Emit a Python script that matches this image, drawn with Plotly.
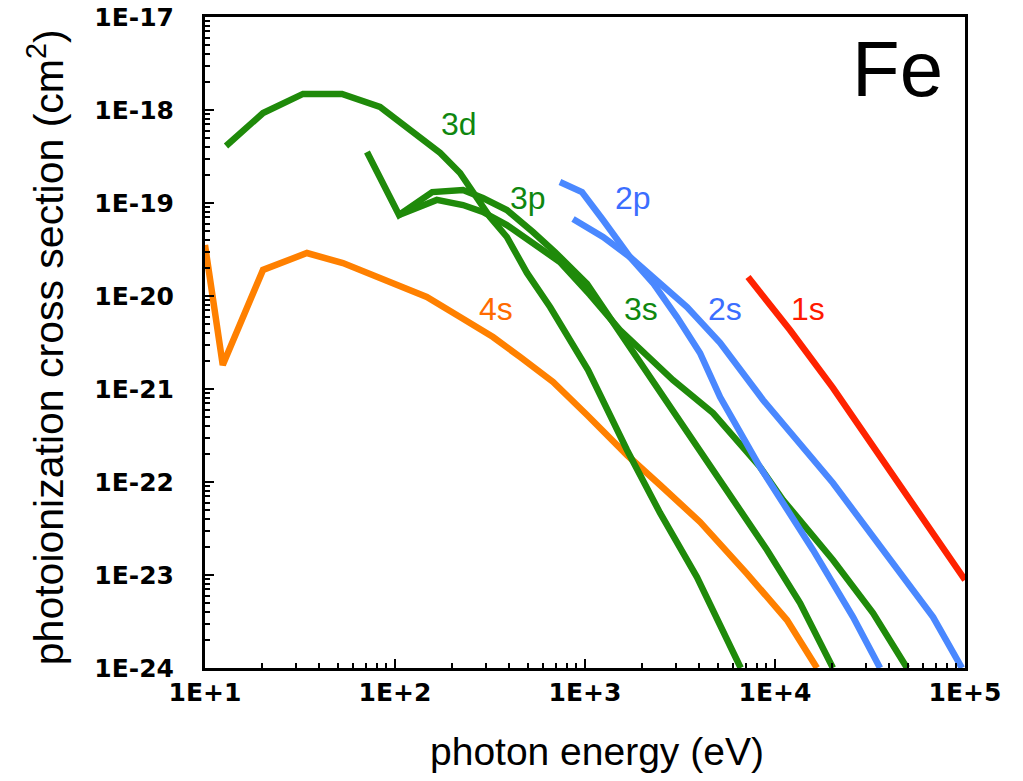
import plotly.graph_objects as go

# ---- data (photon energy in eV, cross section in cm^2) ----
e_3d = [12.9, 20.2, 32.8, 52.6, 83.4, 132, 173, 220, 258, 316, 388, 495, 655, 1038, 1663, 2483, 3882, 6600]
s_3d = [4.10e-19, 9.29e-19, 1.49e-18, 1.49e-18, 1.08e-18, 5.38e-19, 3.45e-19, 2.10e-19, 1.28e-19,
        7.06e-20, 4.31e-20, 1.77e-20, 7.62e-21, 1.60e-21, 2.21e-22, 4.65e-23, 9.51e-24, 1.0e-24]

e_3p = [71.2, 105, 157, 228, 290, 388, 532, 695, 1025, 1403, 2198, 3698, 5585, 9078, 13550, 20180]
s_3p = [3.53e-19, 7.43e-20, 1.31e-19, 1.38e-19, 1.13e-19, 8.41e-20, 4.88e-20, 2.97e-20, 1.35e-20,
        5.25e-21, 1.42e-21, 2.83e-22, 8.20e-23, 1.86e-23, 5.00e-24, 1.0e-24]

e_3s = [105, 166, 228, 290, 388, 579, 738, 1062, 1528, 2904, 4721, 8337, 11020, 20180, 32810, 49550]
s_3s = [7.43e-20, 1.08e-19, 9.51e-20, 8.00e-20, 5.79e-20, 3.37e-20, 2.32e-20, 1.03e-20, 4.31e-21,
        1.25e-21, 5.52e-22, 1.45e-22, 6.40e-23, 1.45e-23, 3.90e-24, 1.0e-24]

e_2p = [738, 964, 1244, 1726, 2280, 3048, 4030, 5140, 8337, 15850, 25760, 35730]
s_2p = [1.68e-19, 1.31e-19, 6.56e-20, 2.62e-20, 1.38e-20, 5.94e-21, 2.44e-21, 8.20e-22, 1.45e-22,
        1.86e-23, 3.53e-24, 1.0e-24]

e_2s = [865, 1244, 1726, 2483, 3443, 5140, 8650, 20180, 36980, 67920, 96350]
s_2s = [6.73e-20, 4.31e-20, 2.62e-20, 1.38e-20, 7.62e-21, 3.13e-21, 7.62e-22, 9.75e-23, 1.86e-23,
        3.53e-24, 1.0e-24]

e_1s = [7210, 11990, 20180, 30480, 45490, 67920, 100000]
s_1s = [1.60e-20, 4.31e-21, 1.03e-21, 3.05e-22, 9.29e-23, 2.83e-23, 8.83e-24]

e_4s = [10, 12.4, 20.2, 34.4, 53.2, 86.5, 147, 220, 328, 455, 679, 1025, 1663, 2483, 4030, 7129, 11560, 16630]
s_4s = [3.53e-20, 1.81e-21, 1.91e-20, 2.90e-20, 2.26e-20, 1.49e-20, 9.75e-21, 5.94e-21, 3.62e-21,
        2.21e-21, 1.19e-21, 5.25e-22, 1.95e-22, 9.29e-23, 3.72e-23, 1.03e-23, 3.28e-24, 1.0e-24]

x_tickvals = [1e1, 1e2, 1e3, 1e4, 1e5]
x_ticktext = ["1E+1", "1E+2", "1E+3", "1E+4", "1E+5"]
y_tickvals = [1e-17, 1e-18, 1e-19, 1e-20, 1e-21, 1e-22, 1e-23, 1e-24]
y_ticktext = ["1E-17", "1E-18", "1E-19", "1E-20", "1E-21", "1E-22", "1E-23", "1E-24"]

x_title = "photon energy (eV)"
y_title = "photoionization cross section (cm<sup>2</sup>)"

GREEN = "#1F8A0A"
BLUE = "#4A88FF"
RED = "#FF2200"
ORANGE = "#FF8000"

series = [
    ("4s", e_4s, s_4s, ORANGE),
    ("3d", e_3d, s_3d, GREEN),
    ("3p", e_3p, s_3p, GREEN),
    ("3s", e_3s, s_3s, GREEN),
    ("2p", e_2p, s_2p, BLUE),
    ("2s", e_2s, s_2s, BLUE),
    ("1s", e_1s, s_1s, RED),
]

fig = go.Figure()
for name, ex, sy, col in series:
    fig.add_trace(go.Scatter(x=ex, y=sy, mode="lines", name=name,
                             line=dict(color=col, width=6.5), showlegend=False,
                             hoverinfo="skip"))

FONT = "Liberation Sans, Arial, Helvetica, sans-serif"
TICKFONT = "DejaVu Sans, Liberation Sans, Arial, sans-serif"

labels = [
    ("3d", 0.334, 0.836, "#0F870F"),
    ("3p", 0.425, 0.722, "#0F870F"),
    ("2p", 0.563, 0.722, "#3B6EFF"),
    ("4s", 0.383, 0.552, "#FF6B00"),
    ("3s", 0.574, 0.552, "#0F870F"),
    ("2s", 0.684, 0.552, "#3B6EFF"),
    ("1s", 0.793, 0.552, "#FF1A00"),
]
for txt, xp, yp, col in labels:
    fig.add_annotation(x=xp, y=yp, xref="paper", yref="paper", text=txt,
                       showarrow=False, font=dict(family=FONT, size=32, color=col),
                       xanchor="center", yanchor="middle")

fig.add_annotation(x=0.911, y=0.92, xref="paper", yref="paper", text="Fe",
                   showarrow=False, font=dict(family=FONT, size=78, color="black"),
                   xanchor="center", yanchor="middle")

# axis titles placed as annotations for exact positioning
fig.add_annotation(x=0.516, y=-0.129, xref="paper", yref="paper", text=x_title,
                   showarrow=False, font=dict(family=FONT, size=39, color="black"),
                   xanchor="center", yanchor="middle")
fig.add_annotation(x=-0.209, y=0.493, xref="paper", yref="paper", text=y_title,
                   textangle=-90, showarrow=False,
                   font=dict(family=FONT, size=41, color="black"),
                   xanchor="center", yanchor="middle")

fig.update_layout(
    width=1023, height=781,
    margin=dict(l=205, r=58, t=17, b=113, autoexpand=False),
    paper_bgcolor="white", plot_bgcolor="white",
    font=dict(family=FONT, color="black"),
)

fig.update_xaxes(
    type="log", range=[1, 5], automargin=False,
    tickmode="array", tickvals=x_tickvals, ticktext=x_ticktext,
    ticks="inside", ticklen=9, tickwidth=2, tickcolor="black",
    minor=dict(ticks="inside", ticklen=5, tickwidth=1.5, tickcolor="black", dtick="D1", showgrid=False),
    showline=True, linecolor="black", linewidth=3, mirror=True,
    showgrid=False, zeroline=False, ticklabeloverflow="allow",
    tickfont=dict(family=TICKFONT, size=25, color="black", weight="bold"),
)
fig.update_yaxes(
    type="log", range=[-24, -17], automargin=False,
    tickmode="array", tickvals=y_tickvals, ticktext=y_ticktext,
    ticks="inside", ticklen=9, tickwidth=2, tickcolor="black",
    minor=dict(ticks="inside", ticklen=5, tickwidth=1.5, tickcolor="black", dtick="D1", showgrid=False),
    showline=True, linecolor="black", linewidth=3, mirror=True,
    showgrid=False, zeroline=False, ticklabeloverflow="allow",
    tickfont=dict(family=TICKFONT, size=25, color="black", weight="bold"),
    ticklabelstandoff=23,
)

fig.write_html("out.html", config={"displayModeBar": False},
               post_script="document.body.style.margin='0px';")
